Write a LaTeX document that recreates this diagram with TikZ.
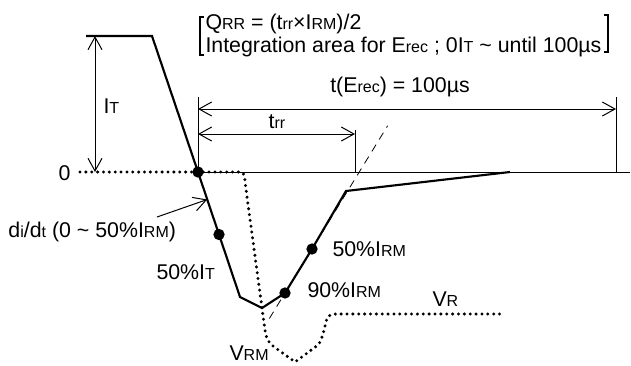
\documentclass[tikz,border=0pt]{standalone}
\usepackage{fontspec}
\setmainfont{Liberation Sans}
\usetikzlibrary{arrows.meta,calc}
\newcommand\lo[1]{{\fontsize{12}{12}\selectfont #1}}
\tikzset{every picture/.style={line width=0.75pt},
  wave/.style={line width=1.6pt},
  volt/.style={line width=2.5pt,dash pattern=on 0pt off 4.4pt,line cap=round},
  guide/.style={line width=0.6pt,dash pattern=on 6pt off 4.5pt},
  lbl/.style={inner sep=0pt,font=\fontsize{16}{19}\selectfont},
  blob/.style={circle,fill,inner sep=0pt,minimum size=8.5pt}}

\begin{document}
\begin{tikzpicture}[x=0.75pt,y=0.75pt,yscale=-1,xscale=1,>={Straight Barb[length=9.5pt,width=10.5pt]}]
\useasboundingbox (0,0) rectangle (631,365);

%Points of the current
\coordinate (top0) at (86,36);
\coordinate (top1) at (152,36);
\coordinate (zc) at (198,172);
\coordinate (knee) at (240,297);
\coordinate (vmin) at (262,308);
\coordinate (p90) at (285,293);
\coordinate (p50) at (312,249);
\coordinate (bend) at (346,191);
\coordinate (tail) at (510,172);

%Straight Lines: zero line
\draw (zc) -- (630,172);
%Straight Lines: ticks
\coordinate (tkA) at (198,97);
\coordinate (tkB) at (355,130);
\coordinate (tkBb) at (355,172);
\coordinate (tkC) at (616,97);
\coordinate (tkCb) at (616,172);
\draw (tkA) -- (zc);
\draw (tkB) -- (tkBb);
\draw (tkC) -- (tkCb);

%Dimension arrows
\coordinate (itT) at (95,36);
\coordinate (itB) at (95,172);
\draw [<->] (itT) -- (itB);
\draw [<->] (198,109) coordinate (erA) -- (616,109) coordinate (erB);
\draw [<->] (198,134) coordinate (trA) -- (355,134) coordinate (trB);

%Dashed extrapolation
\draw [guide] ($(p90)!-0.58!(p50)$) -- ($(p90)!3.8!(p50)$);

%Voltage
\draw [volt] (80,172) -- (240,172) .. controls (244,172) and (245,176) .. (245,182) -- (262,308) -- (265,330) .. controls (266,338) and (268,342) .. (273,346) -- (295,362) -- (318,345) .. controls (322,340) and (324,330) .. (326,322) .. controls (327,316) and (330,314) .. (336,314) -- (505,314);

%Current
\draw [wave] (top0) -- (top1) -- (zc) -- (knee) -- (vmin) -- (p90) -- (p50) -- (bend) -- (tail);
\node [blob] (b0) at (zc) {};
\node [blob] (b1) at ($(zc)!0.5!(knee)$) {};
\node [blob] (b2) at (p90) {};
\node [blob] (b3) at (p50) {};

%di/dt pointer
\coordinate (ddS) at (157,217);
\draw [->] (ddS) -- ($(zc)!0.22!(knee)$);

%Brackets
\draw [line width=1.4pt] (204,17) -- (200,17) -- (200,55) -- (204,55);
\draw [line width=1.4pt] (604,15) -- (608,15) -- (608,52) -- (604,52);

% Text Node
\draw (205,29) node [anchor=base west][lbl] (hdr1) {Q\lo{RR} = (t\lo{rr}×I\lo{RM})/2};
% Text Node
\draw (205,52) node [anchor=base west][lbl] (hdr2) {Integration area for E\lo{rec} ; 0I\lo{T} \textasciitilde{} until 100µs};
% Text Node
\draw (71,180) node [anchor=base east][lbl] (zero) {0};
% Text Node
\draw (103,113) node [anchor=base west][lbl] (it) {I\lo{T}};
% Text Node
\draw (400,92) node [anchor=base][lbl] (terec) {t(E\lo{rec}) = 100µs};
% Text Node
\draw (277,128) node [anchor=base][lbl] (trr) {t\lo{rr}};
% Text Node
\draw (8,237) node [anchor=base west][lbl] (didt) {d\lo{i}/d\lo{t} (0 \textasciitilde{} 50\%I\lo{RM})};
% Text Node
\draw (156,279) node [anchor=base west][lbl] (hIt) {50\%I\lo{T}};
% Text Node
\draw (332,256) node [anchor=base west][lbl] (hIrm) {50\%I\lo{RM}};
% Text Node
\draw (307,297) node [anchor=base west][lbl] (nIrm) {90\%I\lo{RM}};
% Text Node
\draw (432,306) node [anchor=base west][lbl] (vr) {V\lo{R}};
% Text Node
\draw (229,360) node [anchor=base west][lbl] (vrm) {V\lo{RM}};
\end{tikzpicture}
\end{document}
